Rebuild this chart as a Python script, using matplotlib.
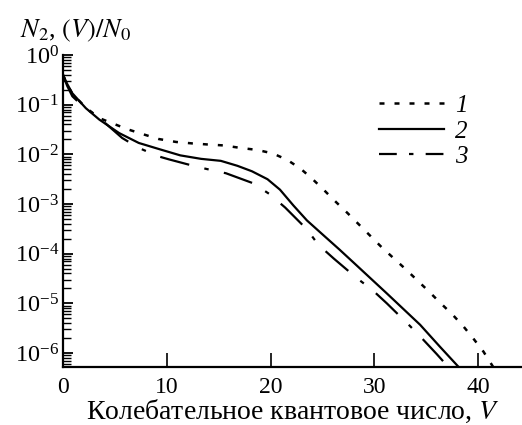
import numpy as np
import matplotlib
matplotlib.use("Agg")
import matplotlib.pyplot as plt
from matplotlib.ticker import LogLocator, FixedLocator, NullFormatter
from matplotlib.lines import Line2D

plt.rcParams['font.family'] = ['Liberation Serif', 'DejaVu Serif']
plt.rcParams['mathtext.fontset'] = 'stix'

# curve 1 (dotted), values read as log10(N2(V)/N0)
v1 = [0, 0.4, 0.9, 2.2, 3.5, 4.7, 6.3, 7.8, 9.2, 10.9, 12.5, 13.9, 15.5, 17.1,
      18.7, 20.2, 21.6, 22.9, 24.0, 25.1, 26.25, 27.4, 28.5, 29.6, 30.7, 31.9,
      33.0, 34.1, 35.2, 36.3, 37.5, 38.6, 39.5, 40.5, 41.5]
lg1 = [-0.4, -0.6, -0.78, -1.06, -1.27, -1.37, -1.5, -1.6, -1.69, -1.75, -1.78,
       -1.8, -1.82, -1.87, -1.91, -1.98, -2.11, -2.29, -2.49, -2.71, -2.95,
       -3.18, -3.41, -3.64, -3.87, -4.1, -4.31, -4.53, -4.75, -4.98, -5.22,
       -5.47, -5.7, -5.97, -6.3]

# curve 2 (solid)
v2 = [0, 0.4, 0.9, 2.2, 3.5, 5.4, 7.3, 9.2, 11.3, 13.3, 15.2, 16.8, 18.2, 19.7,
      20.9, 22.2, 23.5, 25.1, 26.6, 28.0, 31.2, 34.4, 36.3, 38.2]
lg2 = [-0.4, -0.58, -0.77, -1.07, -1.3, -1.57, -1.77, -1.89, -2.02, -2.09, -2.13,
       -2.23, -2.34, -2.5, -2.71, -3.03, -3.33, -3.63, -3.91, -4.18, -4.8, -5.43,
       -5.87, -6.3]

# curve 3 (dash-dot)
v3 = [0, 0.4, 0.9, 2.0, 3.3, 5.7, 7.3, 9.2, 10.2, 12.0, 13.75, 15.7, 18.3, 19.9,
      21.4, 23.5, 24.6, 26.1, 28.3, 29.8, 31.2, 33.4, 34.7, 36.0, 37.2]
lg3 = [-0.4, -0.62, -0.83, -1.05, -1.23, -1.67, -1.87, -2.04, -2.1, -2.2, -2.29,
       -2.38, -2.58, -2.8, -3.07, -3.51, -3.82, -4.1, -4.49, -4.73, -5.0, -5.45,
       -5.73, -6.02, -6.3]

labels = ['1', '2', '3']
xticks = [0, 10, 20, 30, 40]

fig = plt.figure(figsize=(5.22, 4.25), dpi=100)
ax = fig.add_axes([0.1207, 0.1365, 0.879, 0.734])

ax.plot(v1, 10 ** np.array(lg1), color='black', lw=1.8, ls=(0, (2, 4)))
ax.plot(v2, 10 ** np.array(lg2), color='black', lw=1.6, ls='-')
ax.plot(v3, 10 ** np.array(lg3), color='black', lw=1.6, ls=(0, (13.5, 7, 2, 7)))

ax.set_yscale('log')
ax.set_xlim(0, 44.2)
ax.set_ylim(10 ** -6.28, 1)

ax.spines['top'].set_visible(False)
ax.spines['right'].set_visible(False)
ax.spines['left'].set_linewidth(1.6)
ax.spines['bottom'].set_linewidth(1.6)

ax.xaxis.set_major_locator(FixedLocator(xticks))
ax.yaxis.set_major_locator(LogLocator(base=10, numticks=10))
ax.yaxis.set_minor_locator(LogLocator(base=10, subs=np.arange(2, 10), numticks=10))
ax.yaxis.set_minor_formatter(NullFormatter())
ax.tick_params(axis='x', which='major', direction='in', length=10, width=1.2,
               labelsize=17, pad=7)
ax.tick_params(axis='y', which='major', direction='in', length=7, width=1.3,
               labelsize=17.5, pad=3)
ax.tick_params(axis='y', which='minor', direction='in', length=6, width=1.0)

ax.set_xlabel('Колебательное квантовое число, $V$', fontsize=20, labelpad=0)
fig.text(0.038, 0.912, r'$N_2$, $(V)/N_0$', fontsize=19)

# legend handles drawn with a shorter dash pattern, as in the original key
handles = [
    Line2D([], [], color='black', lw=1.8, ls=(0, (2, 4))),
    Line2D([], [], color='black', lw=1.6, ls='-'),
    Line2D([], [], color='black', lw=1.6, ls=(0, (8, 5.5, 2, 5.5))),
]
ax.legend(handles, labels, loc='upper left', bbox_to_anchor=(0.64, 0.945),
          frameon=False, handlelength=2.6, handletextpad=0.45, labelspacing=0.12,
          prop={'family': 'Liberation Serif', 'style': 'italic', 'size': 18})

fig.savefig('out.png', dpi=100)
